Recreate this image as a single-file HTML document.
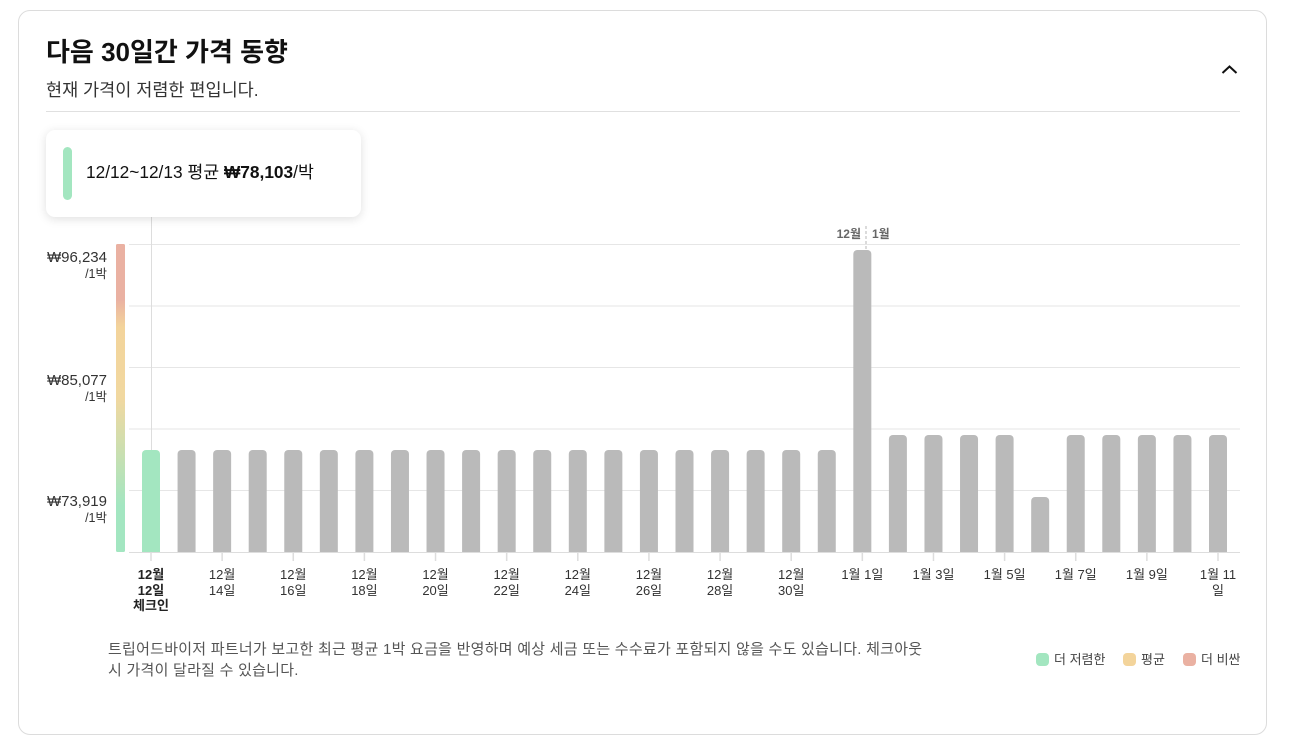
<!DOCTYPE html>
<html>
<head>
<meta charset="utf-8">
<style>
html,body{margin:0;padding:0;background:#fff;}
body{width:1290px;height:740px;position:relative;overflow:hidden;font-family:"Liberation Sans","Noto Sans CJK KR",sans-serif;color:#222;}
.card{position:absolute;left:18px;top:10px;width:1247px;height:723px;border:1px solid #dcdcdc;border-radius:12px;}
.title{position:absolute;left:46px;top:34px;font-size:26px;font-weight:bold;line-height:36px;color:#111;white-space:nowrap;}
.sub{position:absolute;left:46px;top:78px;font-size:17.5px;line-height:24px;color:#333;white-space:nowrap;}
.divider{position:absolute;left:46px;top:111px;width:1194px;height:1px;background:#e0e0e0;}
.tip{position:absolute;left:46px;top:130px;width:315px;height:87px;background:#fff;border-radius:9px;box-shadow:0 2px 10px rgba(0,0,0,0.13);}
.tip .bar{position:absolute;left:17px;top:17px;width:9px;height:53px;border-radius:5px;background:#a3e6c0;}
.tip .txt{position:absolute;left:40px;top:30px;font-size:17.3px;line-height:24px;color:#111;white-space:nowrap;}
.yl{position:absolute;right:1183px;text-align:right;color:#333;white-space:nowrap;}
.yl .a{font-size:15px;line-height:17px;}
.yl .b{font-size:12.5px;line-height:16px;}
.foot{position:absolute;left:108px;top:639px;font-size:15px;letter-spacing:0.25px;line-height:21px;color:#555;white-space:nowrap;}
.leg{position:absolute;top:651px;font-size:13px;line-height:18px;color:#444;white-space:nowrap;}
.leg i{display:inline-block;width:13px;height:13px;border-radius:4px;vertical-align:-2px;margin-right:5px;}
</style>
</head>
<body>
<div class="card"></div>
<div class="title">다음 30일간 가격 동향</div>
<div class="sub">현재 가격이 저렴한 편입니다.</div>
<svg style="position:absolute;left:1221px;top:64px" width="17" height="11" viewBox="0 0 17 11"><polyline points="1.5,9 8.5,2.5 15.5,9" fill="none" stroke="#111" stroke-width="2"/></svg>
<div class="divider"></div>

<svg style="position:absolute;left:0;top:0" width="1290" height="740">
<defs>
<linearGradient id="g" x1="0" y1="0" x2="0" y2="1">
<stop offset="0" stop-color="#eab1a2"/>
<stop offset="0.18" stop-color="#eab1a2"/>
<stop offset="0.27" stop-color="#f3d49b"/>
<stop offset="0.50" stop-color="#f1d8a0"/>
<stop offset="0.85" stop-color="#a3e6c1"/>
<stop offset="1" stop-color="#a3e6c1"/>
</linearGradient>
<clipPath id="c"><rect x="0" y="0" width="1290" height="552"/></clipPath>
</defs>
<rect x="116" y="244" width="9" height="308" rx="1.5" fill="url(#g)"/>
<g stroke="#e6e6e6" stroke-width="1">
<line x1="129" y1="244.5" x2="1240" y2="244.5"/>
<line x1="129" y1="306" x2="1240" y2="306"/>
<line x1="129" y1="367.5" x2="1240" y2="367.5"/>
<line x1="129" y1="429" x2="1240" y2="429"/>
<line x1="129" y1="490.5" x2="1240" y2="490.5"/>
</g>
<line x1="151.5" y1="217" x2="151.5" y2="552" stroke="#dddddd" stroke-width="1"/>
<line x1="866" y1="226" x2="866" y2="250" stroke="#cfcfcf" stroke-width="1.5" stroke-dasharray="3,2"/>
<text x="861" y="238" text-anchor="end" font-size="12" font-weight="bold" fill="#666">12월</text>
<text x="872" y="238" text-anchor="start" font-size="12" font-weight="bold" fill="#666">1월</text>
<g clip-path="url(#c)" fill="#bababa">
<rect x="142" y="450" width="18" height="110" rx="4" fill="#a3e6c0"/>
<rect x="177.57" y="450" width="18" height="110" rx="4"/>
<rect x="213.13" y="450" width="18" height="110" rx="4"/>
<rect x="248.7" y="450" width="18" height="110" rx="4"/>
<rect x="284.27" y="450" width="18" height="110" rx="4"/>
<rect x="319.83" y="450" width="18" height="110" rx="4"/>
<rect x="355.4" y="450" width="18" height="110" rx="4"/>
<rect x="390.97" y="450" width="18" height="110" rx="4"/>
<rect x="426.53" y="450" width="18" height="110" rx="4"/>
<rect x="462.1" y="450" width="18" height="110" rx="4"/>
<rect x="497.67" y="450" width="18" height="110" rx="4"/>
<rect x="533.23" y="450" width="18" height="110" rx="4"/>
<rect x="568.8" y="450" width="18" height="110" rx="4"/>
<rect x="604.37" y="450" width="18" height="110" rx="4"/>
<rect x="639.93" y="450" width="18" height="110" rx="4"/>
<rect x="675.5" y="450" width="18" height="110" rx="4"/>
<rect x="711.07" y="450" width="18" height="110" rx="4"/>
<rect x="746.63" y="450" width="18" height="110" rx="4"/>
<rect x="782.2" y="450" width="18" height="110" rx="4"/>
<rect x="817.77" y="450" width="18" height="110" rx="4"/>
<rect x="853.33" y="250" width="18" height="310" rx="4"/>
<rect x="888.9" y="435" width="18" height="125" rx="4"/>
<rect x="924.47" y="435" width="18" height="125" rx="4"/>
<rect x="960.03" y="435" width="18" height="125" rx="4"/>
<rect x="995.6" y="435" width="18" height="125" rx="4"/>
<rect x="1031.17" y="497" width="18" height="63" rx="4"/>
<rect x="1066.73" y="435" width="18" height="125" rx="4"/>
<rect x="1102.3" y="435" width="18" height="125" rx="4"/>
<rect x="1137.87" y="435" width="18" height="125" rx="4"/>
<rect x="1173.43" y="435" width="18" height="125" rx="4"/>
<rect x="1209" y="435" width="18" height="125" rx="4"/>
</g>
<line x1="129" y1="552.5" x2="1240" y2="552.5" stroke="#dddddd" stroke-width="1"/>
<g stroke="#dddddd" stroke-width="1.5">
<line x1="151" y1="553" x2="151" y2="561"/>
<line x1="222.13" y1="553" x2="222.13" y2="561"/>
<line x1="293.27" y1="553" x2="293.27" y2="561"/>
<line x1="364.4" y1="553" x2="364.4" y2="561"/>
<line x1="435.53" y1="553" x2="435.53" y2="561"/>
<line x1="506.67" y1="553" x2="506.67" y2="561"/>
<line x1="577.8" y1="553" x2="577.8" y2="561"/>
<line x1="648.93" y1="553" x2="648.93" y2="561"/>
<line x1="720.07" y1="553" x2="720.07" y2="561"/>
<line x1="791.2" y1="553" x2="791.2" y2="561"/>
<line x1="862.33" y1="553" x2="862.33" y2="561"/>
<line x1="933.47" y1="553" x2="933.47" y2="561"/>
<line x1="1004.6" y1="553" x2="1004.6" y2="561"/>
<line x1="1075.73" y1="553" x2="1075.73" y2="561"/>
<line x1="1146.87" y1="553" x2="1146.87" y2="561"/>
<line x1="1218" y1="553" x2="1218" y2="561"/>
</g>
<g font-size="13" fill="#333" text-anchor="middle">
<text x="151" y="579" font-weight="bold" fill="#222">12월</text>
<text x="151" y="595" font-weight="bold" fill="#222">12일</text>
<text x="151" y="610" font-weight="bold" fill="#222">체크인</text>
<text x="222.13" y="579">12월</text><text x="222.13" y="595">14일</text>
<text x="293.27" y="579">12월</text><text x="293.27" y="595">16일</text>
<text x="364.4" y="579">12월</text><text x="364.4" y="595">18일</text>
<text x="435.53" y="579">12월</text><text x="435.53" y="595">20일</text>
<text x="506.67" y="579">12월</text><text x="506.67" y="595">22일</text>
<text x="577.8" y="579">12월</text><text x="577.8" y="595">24일</text>
<text x="648.93" y="579">12월</text><text x="648.93" y="595">26일</text>
<text x="720.07" y="579">12월</text><text x="720.07" y="595">28일</text>
<text x="791.2" y="579">12월</text><text x="791.2" y="595">30일</text>
<text x="862.33" y="579">1월 1일</text>
<text x="933.47" y="579">1월 3일</text>
<text x="1004.6" y="579">1월 5일</text>
<text x="1075.73" y="579">1월 7일</text>
<text x="1146.87" y="579">1월 9일</text>
<text x="1218" y="579">1월 11</text><text x="1218" y="595">일</text>
</g>
</svg>

<div class="yl" style="top:249px"><div class="a">₩96,234</div><div class="b">/1박</div></div>
<div class="yl" style="top:372px"><div class="a">₩85,077</div><div class="b">/1박</div></div>
<div class="yl" style="top:493px"><div class="a">₩73,919</div><div class="b">/1박</div></div>

<div class="tip"><div class="bar"></div><div class="txt">12/12~12/13 평균 <b>₩78,103</b>/박</div></div>

<div class="foot">트립어드바이저 파트너가 보고한 최근 평균 1박 요금을 반영하며 예상 세금 또는 수수료가 포함되지 않을 수도 있습니다. 체크아웃<br>시 가격이 달라질 수 있습니다.</div>

<div class="leg" style="left:1036px"><i style="background:#a3e6c0"></i>더 저렴한</div>
<div class="leg" style="left:1123px"><i style="background:#f3d49b"></i>평균</div>
<div class="leg" style="left:1183px"><i style="background:#eab1a2"></i>더 비싼</div>
</body>
</html>
